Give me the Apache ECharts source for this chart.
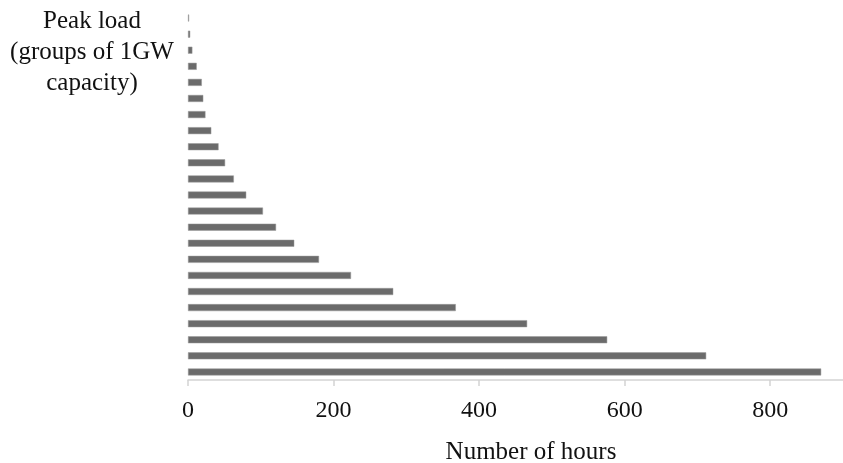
<!DOCTYPE html>
<html>
<head>
<meta charset="utf-8">
<script src="https://cdn.jsdelivr.net/npm/echarts@6/dist/echarts.min.js"></script>
<style>html,body{margin:0;padding:0;background:#fff;}#c{width:843px;height:463px;}</style>
</head>
<body>
<div id="c"></div>
<script>
// Peak load groups (1 GW each), from bottom bar to top bar
const categories = ['1','2','3','4','5','6','7','8','9','10','11','12','13','14','15','16','17','18','19','20','21','22','23'];
// Number of hours per group (bottom to top)
const hours = [870, 712, 576, 466, 368, 282, 224, 180, 146, 121, 103, 80, 63, 51, 42, 32, 24, 21, 19, 12, 6, 3, 1.5];
const xTicks = [0, 200, 400, 600, 800];
const xTitle = 'Number of hours';
const yTitle = 'Peak load\n(groups of 1GW\ncapacity)';

const chart = echarts.init(document.getElementById('c'), null, {renderer: 'canvas'});
const serif = '"Liberation Serif", "DejaVu Serif", serif';
chart.setOption({
  animation: false,
  grid: {left: 188, right: -9, top: 10, bottom: 83, containLabel: false},
  xAxis: {
    type: 'value', min: 0, max: 900, interval: 200,
    axisLine: {show: true, lineStyle: {color: '#d4d4d4', width: 1.5}},
    axisTick: {show: true, length: 6, lineStyle: {color: '#d4d4d4', width: 1.5}},
    splitLine: {show: false},
    axisLabel: {
      margin: 19, fontFamily: serif, fontSize: 24, color: '#111',
      showMaxLabel: false,
      formatter: v => xTicks.indexOf(v) >= 0 ? String(v) : ''
    }
  },
  yAxis: {
    type: 'category', data: categories,
    axisLine: {show: false}, axisTick: {show: false}, axisLabel: {show: false},
    splitLine: {show: false}
  },
  graphic: [
    {type: 'text', left: 0, top: 0, style: {}, invisible: true},
    {type: 'text', x: 92, y: 6, style: {text: yTitle, font: '25px ' + serif, fill: '#111', align: 'center', verticalAlign: 'top', lineHeight: 31}},
    {type: 'text', x: 531, y: 452, style: {text: xTitle, font: '25px ' + serif, fill: '#111', align: 'center', verticalAlign: 'middle'}}
  ],
  series: [{
    type: 'bar', data: hours, barWidth: 7,
    itemStyle: {color: '#6b6b6b', borderColor: '#9a9a9a', borderWidth: 0.5}
  }]
});
</script>
</body>
</html>
